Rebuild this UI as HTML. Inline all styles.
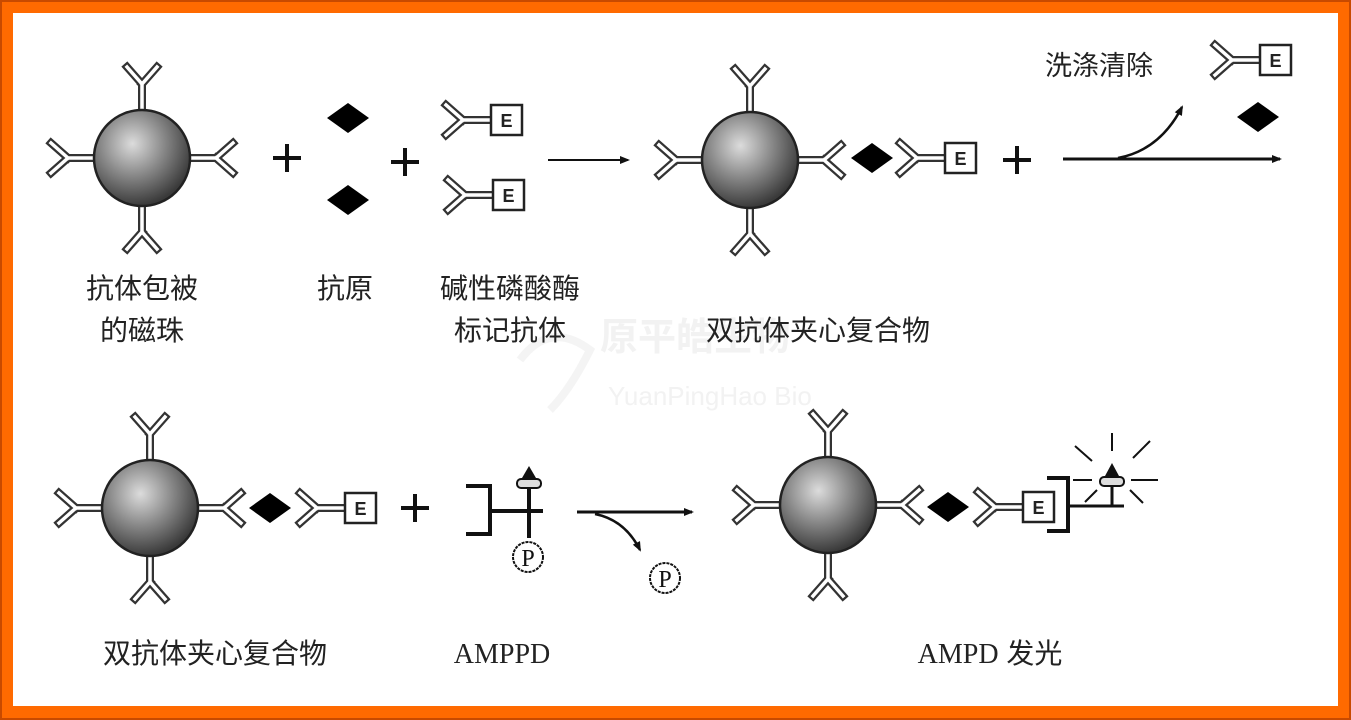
<!DOCTYPE html>
<html><head><meta charset="utf-8"><style>
html,body{margin:0;padding:0;}
body{width:1351px;height:720px;background:#ff6a00;position:relative;overflow:hidden;}
#frame{position:absolute;left:0;top:0;width:1347px;height:716px;border:2px solid #c84a00;}
#in{position:absolute;left:13px;top:13px;width:1325px;height:693px;background:#fff;}
svg{position:absolute;left:0;top:0;}
text{font-family:"Liberation Sans","Noto Sans CJK SC",sans-serif;}
</style></head><body>
<div id="frame"></div>
<div id="in"></div>
<svg width="1351" height="720" viewBox="0 0 1351 720">
<defs>
<radialGradient id="g" cx="0.4" cy="0.35" r="0.65">
<stop offset="0" stop-color="#dcdcdc"/><stop offset="0.5" stop-color="#8a8a8a"/><stop offset="1" stop-color="#3a3a3a"/>
</radialGradient>
<g id="ab">
<path d="M0,0 L0,-28 L-15,-45 M0,-28 L15,-45" fill="none" stroke="#333" stroke-width="8" stroke-linejoin="miter" stroke-linecap="square"/>
<path d="M0,0 L0,-28 L-15,-45 M0,-28 L15,-45" fill="none" stroke="#fff" stroke-width="3.5" stroke-linejoin="miter" stroke-linecap="square"/>
</g>
<g id="bead">
<use href="#ab" transform="translate(0,-46)"/>
<use href="#ab" transform="translate(0,46) rotate(180)"/>
<use href="#ab" transform="translate(-46,0) rotate(-90)"/>
<use href="#ab" transform="translate(46,0) rotate(90)"/>
<circle r="48" fill="url(#g)" stroke="#222" stroke-width="2.5"/>
</g>
<g id="lab">
<use href="#ab" transform="translate(48,0) rotate(-90)"/>
<rect x="48" y="-15" width="31" height="30" fill="#fff" stroke="#222" stroke-width="2.5"/>
<text x="63.5" y="7" font-size="18" font-weight="bold" text-anchor="middle" fill="#222">E</text>
</g>
<path id="dia" d="M-21,0 L0,-15 L21,0 L0,15 Z" fill="#000"/>
<g id="plus"><path d="M-14,0 H14 M0,-14 V14" stroke="#111" stroke-width="4"/></g>
<marker id="ar" markerWidth="10" markerHeight="10" refX="8" refY="5" orient="auto" markerUnits="userSpaceOnUse"><path d="M0,1 L10,5 L0,9 Z" fill="#111"/></marker>
</defs>

<!-- watermark -->
<text x="600" y="350" font-size="38" fill="#f2f2f2" font-weight="bold">原平皓生物</text>
<text x="608" y="405" font-size="26" fill="#f2f2f2">YuanPingHao Bio</text>
<path d="M520,360 q30,-40 70,-10 q-20,40 -40,60" fill="none" stroke="#f4f4f4" stroke-width="8"/>

<!-- row 1 -->
<use href="#bead" transform="translate(142,158)"/>
<use href="#plus" transform="translate(287,158)"/>
<use href="#dia" transform="translate(348,118)"/>
<use href="#dia" transform="translate(348,200)"/>
<use href="#plus" transform="translate(405,162)"/>
<use href="#lab" transform="translate(443,120)"/>
<use href="#lab" transform="translate(445,195)"/>
<line x1="548" y1="160" x2="628" y2="160" stroke="#111" stroke-width="2" marker-end="url(#ar)"/>
<use href="#bead" transform="translate(750,160)"/>
<use href="#dia" transform="translate(872,158)"/>
<use href="#lab" transform="translate(897,158)"/>
<use href="#plus" transform="translate(1017,160)"/>
<line x1="1063" y1="159" x2="1280" y2="159" stroke="#111" stroke-width="3" marker-end="url(#ar)"/>
<path d="M1118,158 Q1160,150 1182,107" fill="none" stroke="#111" stroke-width="2.5" marker-end="url(#ar)"/>
<text x="1045" y="75" font-size="27" fill="#222">洗涤清除</text>
<use href="#lab" transform="translate(1212,60)"/>
<use href="#dia" transform="translate(1258,117)"/>

<g font-size="28" fill="#222" text-anchor="middle">
<text x="142" y="298">抗体包被</text>
<text x="142" y="340">的磁珠</text>
<text x="345" y="298">抗原</text>
<text x="510" y="298">碱性磷酸酶</text>
<text x="510" y="340">标记抗体</text>
<text x="818" y="340">双抗体夹心复合物</text>
<text x="215" y="663">双抗体夹心复合物</text>
<text x="502" y="663" style="font-family:'Liberation Serif',serif">AMPPD</text>
<text x="990" y="663"><tspan style="font-family:'Liberation Serif',serif">AMPD</tspan> 发光</text>
</g>

<!-- row 2 -->
<use href="#bead" transform="translate(150,508)"/>
<use href="#dia" transform="translate(270,508)"/>
<use href="#lab" transform="translate(297,508)"/>
<use href="#plus" transform="translate(415,508)"/>
<!-- AMPPD -->
<path d="M466,486 H490 V534 H466 M490,511 H543 M529,486 V538" fill="none" stroke="#111" stroke-width="4"/>
<rect x="517" y="479" width="24" height="9" rx="4" fill="#ddd" stroke="#111" stroke-width="2"/>
<path d="M522,478 L529,466 L536,478 Z" fill="#111"/>
<circle cx="528" cy="557" r="15" fill="#fff" stroke="#111" stroke-width="2" stroke-dasharray="3,1"/>
<text x="528" y="566" font-size="24" text-anchor="middle" style="font-family:'Liberation Serif',serif" fill="#111">P</text>
<line x1="577" y1="512" x2="692" y2="512" stroke="#111" stroke-width="3" marker-end="url(#ar)"/>
<path d="M595,514 Q625,520 640,550" fill="none" stroke="#111" stroke-width="2.5" marker-end="url(#ar)"/>
<circle cx="665" cy="578" r="15" fill="#fff" stroke="#111" stroke-width="2" stroke-dasharray="3,1"/>
<text x="665" y="587" font-size="24" text-anchor="middle" style="font-family:'Liberation Serif',serif" fill="#111">P</text>

<use href="#bead" transform="translate(828,505)"/>
<use href="#dia" transform="translate(948,507)"/>
<use href="#lab" transform="translate(975,507)"/>
<path d="M1047,478 H1068 V531 H1047" fill="none" stroke="#111" stroke-width="4"/>
<path d="M1068,506 H1124 M1112,506 V485" fill="none" stroke="#111" stroke-width="3"/>
<rect x="1100" y="477" width="24" height="9" rx="4" fill="#ddd" stroke="#111" stroke-width="2"/>
<path d="M1105,476 L1112,463 L1119,476 Z" fill="#111"/>
<g stroke="#111" stroke-width="2">
<line x1="1112" y1="433" x2="1112" y2="451"/>
<line x1="1075" y1="446" x2="1092" y2="461"/>
<line x1="1150" y1="441" x2="1133" y2="458"/>
<line x1="1073" y1="480" x2="1092" y2="480"/>
<line x1="1131" y1="480" x2="1158" y2="480"/>
<line x1="1085" y1="502" x2="1097" y2="490"/>
<line x1="1130" y1="490" x2="1143" y2="503"/>
</g>
</svg>
</body></html>
